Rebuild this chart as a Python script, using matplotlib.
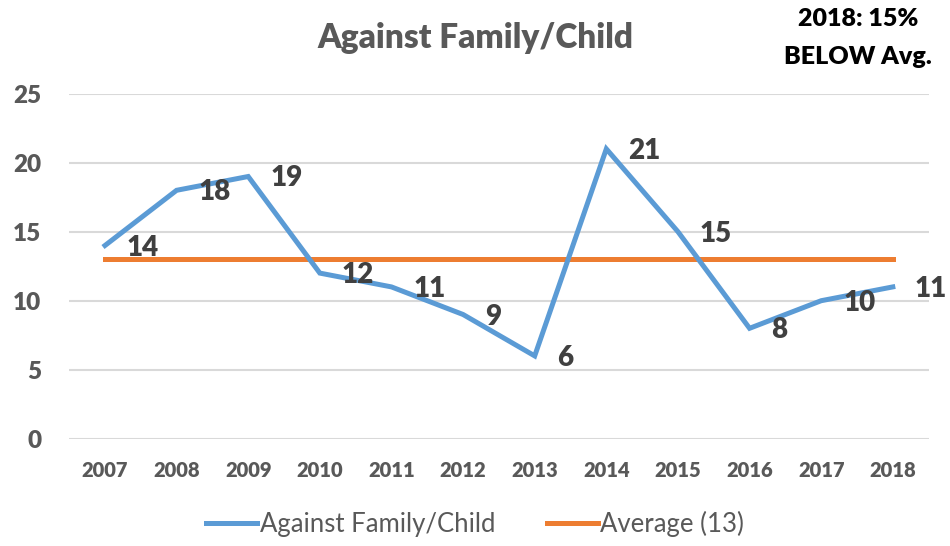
import matplotlib
matplotlib.use('Agg')
import matplotlib.pyplot as plt

# values
years = ['2007', '2008', '2009', '2010', '2011', '2012',
         '2013', '2014', '2015', '2016', '2017', '2018']
counts = [14, 18, 19, 12, 11, 9, 6, 21, 15, 8, 10, 11]
average = 13
y_ticks = [0, 5, 10, 15, 20, 25]

BLUE = '#5B9BD5'
ORANGE = '#ED7D31'
GRAY = '#595959'
DARK = '#404040'
GRID = '#D9D9D9'

plt.rcParams['font.family'] = ['Lato', 'DejaVu Sans']

fig = plt.figure(figsize=(9.5, 5.46), dpi=100)
ax = fig.add_axes([0.0728, 0.1965, 0.9047, 0.6319])

x = list(range(len(years)))
ax.plot(x, counts, color=BLUE, lw=3.6, solid_joinstyle='miter',
        label='Against Family/Child', zorder=3)
ax.plot(x, [average] * len(x), color=ORANGE, lw=3.6,
        label='Average (%d)' % average, zorder=2)

for xi, v in zip(x, counts):
    ax.annotate(str(v), (xi, v), xytext=(22, -2), textcoords='offset pixels',
                ha='left', va='center', fontsize=20, fontweight='heavy',
                color=DARK, zorder=4)

ax.set_xlim(-0.5, len(years) - 0.5)
ax.set_ylim(0, 25)
ax.set_xticks(x)
ax.set_xticklabels(years, fontsize=14.5, fontweight='heavy', color=GRAY)
ax.set_yticks(y_ticks)
ax.set_yticklabels([str(t) for t in y_ticks], fontsize=17.5, fontweight='heavy', color=GRAY)
ax.tick_params(axis='x', length=0, pad=16)
ax.tick_params(axis='y', length=0, pad=20)
ax.grid(axis='y', color=GRID, lw=1.5)
ax.set_axisbelow(True)
for s in ax.spines.values():
    s.set_visible(False)

fig.text(0.5, 0.93, 'Against Family/Child', ha='center', va='center',
         fontsize=24, fontweight='heavy', color=GRAY)
fig.text(0.903, 0.965, '2018: 15%', ha='center', va='center',
         fontsize=18, fontweight='heavy', color='black')
fig.text(0.903, 0.895, 'BELOW Avg.', ha='center', va='center',
         fontsize=18, fontweight='heavy', color='black')

fig.legend(loc='center', bbox_to_anchor=(0.5, 0.04), ncol=2, frameon=False,
           fontsize=18.5, labelcolor=GRAY, handlelength=2.0, handletextpad=0.1,
           columnspacing=2.0)

fig.savefig('out.png', dpi=100)
